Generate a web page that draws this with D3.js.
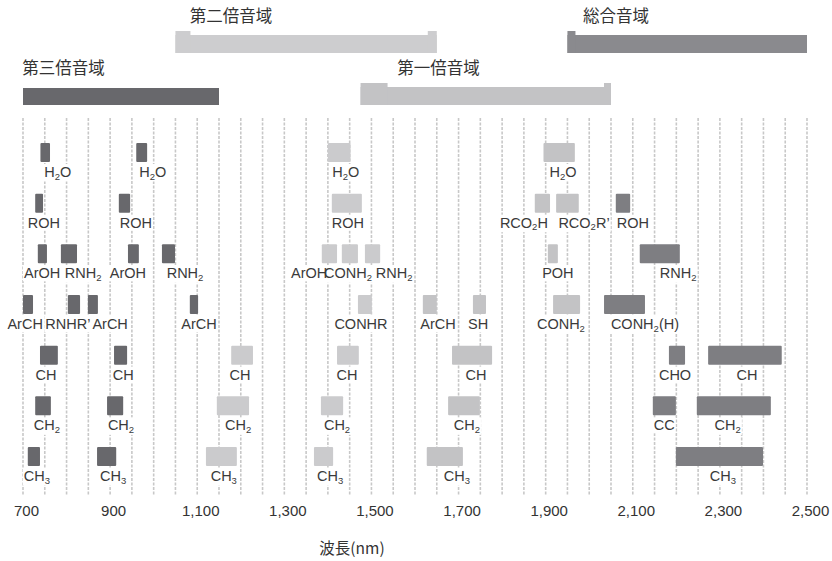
<!DOCTYPE html>
<html>
<head>
<meta charset="utf-8">
<script src="https://cdn.jsdelivr.net/npm/d3@7"></script>
<style>
  html, body { margin: 0; padding: 0; background: #fff; }
  svg { display: block; }
</style>
</head>
<body>
<svg id="chart" width="832" height="561"></svg>
<script>
// ---------- data ----------
const bandNames   = ["第三倍音域", "第二倍音域", "第一倍音域", "総合音域"];
const bandStart   = [700, 1050, 1475, 1950];
const bandEnd     = [1150, 1650, 2050, 2500];
const bandLabelAt = [698, 1083, 1559, 1986];
const bandLevel   = [1, 0, 1, 0];

const barLabels = [
  "H_2O","H_2O","H_2O","H_2O",
  "ROH","ROH","ROH","RCO_2H","RCO_2R’","ROH",
  "ArOH","RNH_2","ArOH","RNH_2","ArOH","CONH_2","RNH_2","POH","RNH_2",
  "ArCH","RNHR’","ArCH","ArCH","CONHR","ArCH","SH","CONH_2","CONH_2(H)",
  "CH","CH","CH","CH","CH","CHO","CH",
  "CH_2","CH_2","CH_2","CH_2","CH_2","CC","CH_2",
  "CH_3","CH_3","CH_3","CH_3","CH_3","CH_3"
];
const barRow = [
  0,0,0,0,
  1,1,1,1,1,1,
  2,2,2,2,2,2,2,2,2,
  3,3,3,3,3,3,3,3,3,
  4,4,4,4,4,4,4,
  5,5,5,5,5,5,5,
  6,6,6,6,6,6
];
const barStart = [
  740, 960, 1400, 1895,
  728, 920, 1409, 1875, 1924, 2061,
  734, 787, 941, 1019, 1386, 1432, 1485, 1905, 2116,
  700, 803, 849, 1083, 1469, 1618, 1733, 1917, 2034,
  739, 909, 1178, 1421, 1685, 2183, 2273,
  728, 893, 1145, 1384, 1676, 2146, 2247,
  711, 870, 1120, 1368, 1627, 2199
];
const barEnd = [
  762, 985, 1452, 1967,
  746, 946, 1478, 1910, 1976, 2094,
  755, 824, 966, 1049, 1421, 1469, 1520, 1928, 2208,
  723, 831, 872, 1102, 1501, 1650, 1763, 1979, 2128,
  780, 939, 1228, 1471, 1777, 2220, 2442,
  764, 930, 1219, 1435, 1749, 2199, 2417,
  739, 914, 1191, 1412, 1710, 2399
];
const barLabelAt = [
  780, 998, 1441, 1940,
  748, 959, 1446, 1850, 1988, 2100,
  744, 838, 941, 1072, 1357, 1446, 1552, 1928, 2204,
  705, 803, 900, 1104, 1476, 1653, 1745, 1935, 2128,
  753, 930, 1198, 1444, 1740, 2197, 2362,
  755, 925, 1194, 1421, 1719, 2172, 2318,
  732, 907, 1161, 1405, 1696, 2307
];
const barGroup = [
  "third","third","second","first",
  "third","third","second","first","first","comb",
  "third","third","third","third","second","second","second","first","comb",
  "third","third","third","third","second","first","first","first","comb",
  "third","third","second","second","first","comb","comb",
  "third","third","second","second","first","comb","comb",
  "third","third","second","second","first","comb"
];
const gridTicks  = d3.range(700, 2501, 50);
const labelTicks = [700, 900, 1100, 1300, 1500, 1700, 1900, 2100, 2300, 2500];
const axisTitle  = "波長(nm)";

// ---------- style ----------
const groupColor = { third: "#68686c", second: "#cbcbcd", first: "#c3c3c5", comb: "#7e7e82" };
const bandColor  = ["#68686c", "#cdcdcf", "#c3c3c5", "#8a8a8e"];
// tabs on the overview bands: [leftTabPx, rightTabPx]
const bandTabs   = [[0, 0], [15, 9], [27, 7], [8, 0]];
const latin = "'Liberation Sans', Arial, Helvetica, sans-serif";
const cjk   = "'Noto Sans CJK JP', 'Noto Sans', sans-serif";

// ---------- scales ----------
const svg = d3.select("#chart");
const x = d3.scaleLinear().domain([700, 2500]).range([23, 807]);
const yRow = d3.scalePoint().domain(d3.range(7)).range([143, 447]);
const barH = 19;

// gridlines
svg.append("g").selectAll("line").data(gridTicks).join("line")
  .attr("x1", d => x(d)).attr("x2", d => x(d))
  .attr("y1", 118).attr("y2", 495)
  .attr("stroke", "#c8c8c8").attr("stroke-width", 1.6)
  .attr("stroke-dasharray", "3,1.5");

// overview bands
const bandTop = [31, 83];
const bandG = svg.append("g");
bandNames.forEach((name, i) => {
  const lvl = bandLevel[i];
  const x0 = x(bandStart[i]), x1 = x(bandEnd[i]);
  const top = bandTop[lvl];
  const bottom = lvl === 0 ? 53 : 105;
  const [lt, rt] = bandTabs[i];
  const mainTop = (lt || rt) ? top + 4 : top + 5;
  bandG.append("rect").attr("x", x0).attr("y", mainTop)
    .attr("width", x1 - x0).attr("height", bottom - mainTop)
    .attr("fill", bandColor[i]);
  if (lt) bandG.append("rect").attr("x", x0).attr("y", top)
    .attr("width", lt).attr("height", bottom - top).attr("fill", bandColor[i]);
  if (rt) bandG.append("rect").attr("x", x1 - rt).attr("y", top)
    .attr("width", rt).attr("height", bottom - top).attr("fill", bandColor[i]);
  bandG.append("text").attr("x", x(bandLabelAt[i])).attr("y", top - 9)
    .attr("font-family", cjk).attr("font-size", 16.5).attr("fill", "#333")
    .text(name);
});

// bars
const bars = barLabels.map((l, i) => ({
  label: l, row: barRow[i], s: barStart[i], e: barEnd[i], at: barLabelAt[i], g: barGroup[i]
}));
const barG = svg.append("g");
barG.selectAll("rect").data(bars).join("rect")
  .attr("x", d => x(d.s)).attr("y", d => yRow(d.row))
  .attr("width", d => x(d.e) - x(d.s)).attr("height", barH)
  .attr("rx", 1)
  .attr("fill", d => groupColor[d.g]);

// labels with subscripts and white backing (backings drawn first)
const bgG = svg.append("g");
const labG = svg.append("g");
bars.forEach(d => {
  const t = labG.append("text")
    .attr("x", x(d.at)).attr("y", yRow(d.row) + 34)
    .attr("text-anchor", "middle")
    .attr("font-family", latin).attr("font-size", 14.5).attr("fill", "#3a3a3a");
  const parts = d.label.split(/_(\d)/);
  parts.forEach((p, k) => {
    if (p === "") return;
    if (k % 2 === 1) {
      t.append("tspan").attr("font-size", 9.5).attr("dy", 2.5).text(p);
    } else {
      const ts = t.append("tspan").text(p);
      if (k > 0) ts.attr("dy", -2.5);
    }
  });
  const bb = t.node().getBBox();
  bgG.append("rect").attr("x", bb.x - 1).attr("y", bb.y)
    .attr("width", bb.width + 2).attr("height", bb.height).attr("fill", "#fff");
});

// axis
const axis = svg.append("g").attr("transform", "translate(0,500)")
  .call(d3.axisBottom(x).tickValues(labelTicks).tickFormat(d3.format(",")).tickSize(0).tickPadding(5));
axis.select(".domain").remove();
axis.selectAll("text")
  .attr("font-family", latin).attr("font-size", 15).attr("fill", "#333")
  .attr("dx", 3);

svg.append("text").attr("x", 352).attr("y", 554).attr("text-anchor", "middle")
  .attr("font-family", cjk).attr("font-size", 15.5).attr("fill", "#333")
  .text(axisTitle);
</script>
</body>
</html>
